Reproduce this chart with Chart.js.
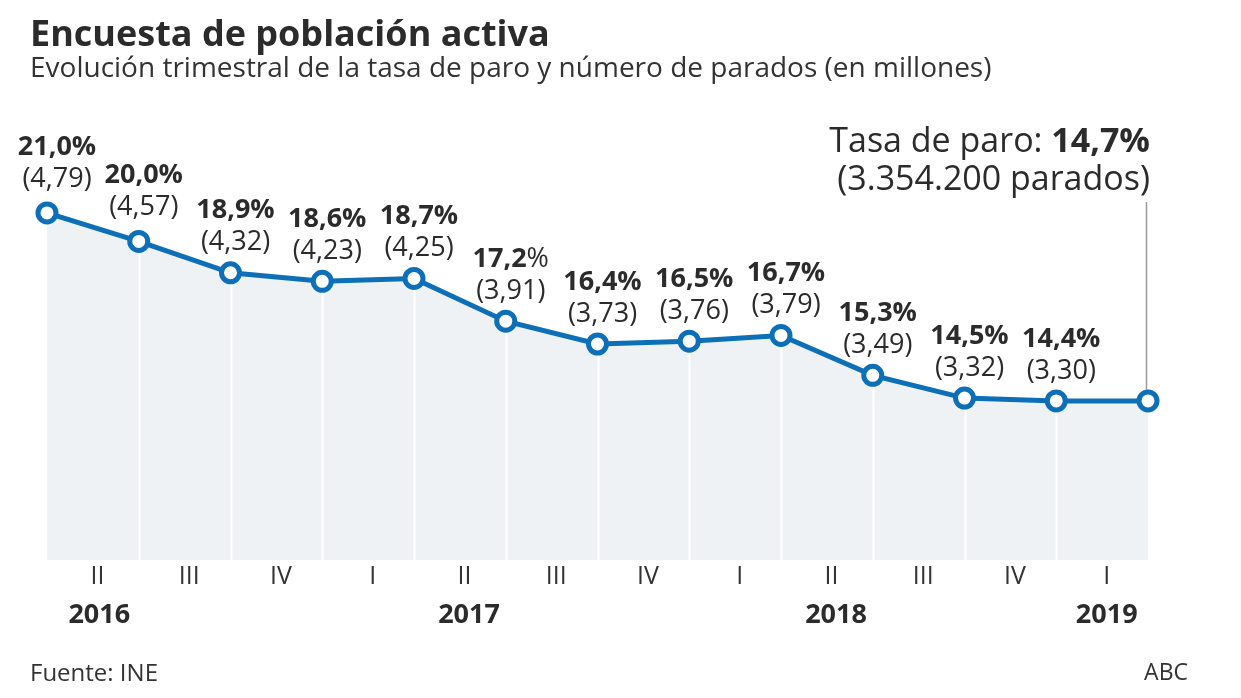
<!DOCTYPE html>
<html>
  <head>
    <meta http-equiv="Content-Type" content="text/html;charset=utf-8" />
    <title>Encuesta de población activa</title>
    <script src="https://cdn.jsdelivr.net/npm/chart.js@4/dist/chart.umd.min.js"></script>
    <style>
      body {
        margin: 0;
        background: #fff;
        font-family: "Open Sans", sans-serif;
        color: #2b2b2b;
      }
      .wrap {
        position: relative;
        width: 1241px;
        height: 698px;
        overflow: hidden;
      }
      #chart {
        position: absolute;
        left: 0;
        top: 0;
      }
      .txt {
        position: absolute;
        white-space: nowrap;
        line-height: 1;
      }
      #title { left: 30px; top: 15px; font-size: 36px; font-weight: 700; }
      #subtitle { left: 30px; top: 52px; font-size: 28px; font-weight: 400; color: #333; }
      #fuente { left: 30px; top: 660px; font-size: 24px; color: #333; }
      #firma { right: 53px; top: 660px; font-size: 23px; color: #333; }
    </style>
  </head>
  <body>
    <div class="wrap">
      <canvas id="chart" width="1241" height="698"></canvas>
      <div class="txt" id="title">Encuesta de población activa</div>
      <div class="txt" id="subtitle">Evolución trimestral de la tasa de paro y número de parados (en millones)</div>
      <div class="txt" id="fuente">Fuente: INE</div>
      <div class="txt" id="firma">ABC</div>
    </div>

    <script>
      // datos: tasa de paro (%) y parados (millones), 2016-I a 2019-I
      var tasa = [21.0, 20.0, 18.9, 18.6, 18.7, 17.2, 16.4, 16.5, 16.7, 15.3, 14.5, 14.4, 14.4];
      var tasaLabels = ["21,0", "20,0", "18,9", "18,6", "18,7", "17,2", "16,4", "16,5", "16,7", "15,3", "14,5", "14,4", ""];
      var paradosLabels = ["(4,79)", "(4,57)", "(4,32)", "(4,23)", "(4,25)", "(3,91)", "(3,73)", "(3,76)", "(3,79)", "(3,49)", "(3,32)", "(3,30)", ""];
      // en el original el "%" de 17,2 no va en negrita
      var pctNormal = [5];

      // etiquetas del eje: trimestre entre dos puntos y años
      var trimestres = ["II", "III", "IV", "I", "II", "III", "IV", "I", "II", "III", "IV", "I"];
      var years = ["2016", "2017", "2018", "2019"];
      var yearPos = [0.57, 4.6, 8.6, 11.55];

      var ultimoTasa = "14,7%";
      var ultimoParados = "(3.354.200 parados)";

      var blue = "#0c6fb7";
      var textColor = "#2b2b2b";

      var points = tasa.map(function (v, i) {
        return { x: i, y: v };
      });

      var labelsPlugin = {
        id: "etiquetas",
        beforeDatasetsDraw: function (chart) {
          // separadores blancos sobre el área
          var ctx = chart.ctx;
          var xs = chart.scales.x;
          var area = chart.chartArea;
          ctx.save();
          ctx.strokeStyle = "#ffffff";
          ctx.lineWidth = 2;
          for (var i = 1; i < tasa.length - 1; i++) {
            var px = Math.round(xs.getPixelForValue(i)) + 0.5;
            ctx.beginPath();
            ctx.moveTo(px, area.top);
            ctx.lineTo(px, area.bottom);
            ctx.stroke();
          }
          ctx.restore();
        },
        afterDatasetsDraw: function (chart) {
          var ctx = chart.ctx;
          var xs = chart.scales.x;
          var ys = chart.scales.y;
          ctx.save();
          ctx.textBaseline = "middle";
          ctx.fillStyle = textColor;

          for (var i = 0; i < tasa.length; i++) {
            if (!tasaLabels[i]) continue;
            var px = xs.getPixelForValue(i) + (i === 0 ? 10 : 5);
            var py = ys.getPixelForValue(tasa[i]);
            var up = i < 2 ? 4 : 0;
            var fBold = "700 27px 'Open Sans'";
            var fPct = pctNormal.indexOf(i) >= 0 ? "400 27px 'Open Sans'" : fBold;
            ctx.font = fBold;
            var w1 = ctx.measureText(tasaLabels[i]).width;
            ctx.font = fPct;
            var w2 = ctx.measureText("%").width;
            var x0 = px - (w1 + w2) / 2;
            ctx.textAlign = "left";
            ctx.font = fBold;
            ctx.fillText(tasaLabels[i], x0, py - 62 - up);
            ctx.font = fPct;
            ctx.fillText("%", x0 + w1, py - 62 - up);
            ctx.textAlign = "center";
            ctx.font = "400 27px 'Open Sans'";
            ctx.fillText(paradosLabels[i], px, py - 30 - up);
          }

          // trimestres
          ctx.textAlign = "center";
          ctx.textBaseline = "alphabetic";
          ctx.font = "400 25px 'Open Sans'";
          ctx.fillStyle = "#333";
          for (var q = 0; q < trimestres.length; q++) {
            ctx.fillText(trimestres[q], xs.getPixelForValue(q + 0.55), 584);
          }
          // años
          ctx.font = "700 27px 'Open Sans'";
          ctx.fillStyle = textColor;
          for (var k = 0; k < years.length; k++) {
            ctx.fillText(years[k], xs.getPixelForValue(yearPos[k]), 623);
          }

          // anotación del último dato
          var last = tasa.length - 1;
          var lx = xs.getPixelForValue(last);
          var ly = ys.getPixelForValue(tasa[last]);
          ctx.strokeStyle = "#9a9a9a";
          ctx.lineWidth = 1.5;
          ctx.beginPath();
          ctx.moveTo(lx - 1.5, 202);
          ctx.lineTo(lx - 1.5, ly - 11);
          ctx.stroke();

          ctx.textAlign = "right";
          ctx.font = "700 34px 'Open Sans'";
          var wBold = ctx.measureText(ultimoTasa).width;
          ctx.fillText(ultimoTasa, lx + 2, 152);
          ctx.font = "400 34px 'Open Sans'";
          ctx.fillText("Tasa de paro: ", lx + 2 - wBold, 152);
          ctx.fillText(ultimoParados, lx + 2, 190);
          ctx.restore();
        },
      };

      new Chart(document.getElementById("chart"), {
        type: "line",
        data: {
          datasets: [
            {
              data: points,
              borderColor: blue,
              borderWidth: 5,
              backgroundColor: "#eef2f5",
              fill: "start",
              tension: 0,
              pointRadius: 9,
              pointBorderWidth: 5,
              pointBorderColor: blue,
              pointBackgroundColor: "#ffffff",
              clip: false,
            },
          ],
        },
        options: {
          responsive: false,
          animation: false,
          events: [],
          layout: { padding: { left: 47, right: 93, top: 99, bottom: 137.5 } },
          scales: {
            x: { type: "linear", min: 0, max: tasa.length - 1, display: false },
            y: { min: 8.8, max: 25, display: false },
          },
          plugins: {
            legend: { display: false },
            tooltip: { enabled: false },
            filler: { drawTime: "beforeDraw" },
          },
        },
        plugins: [labelsPlugin],
      });
    </script>
  </body>
</html>
